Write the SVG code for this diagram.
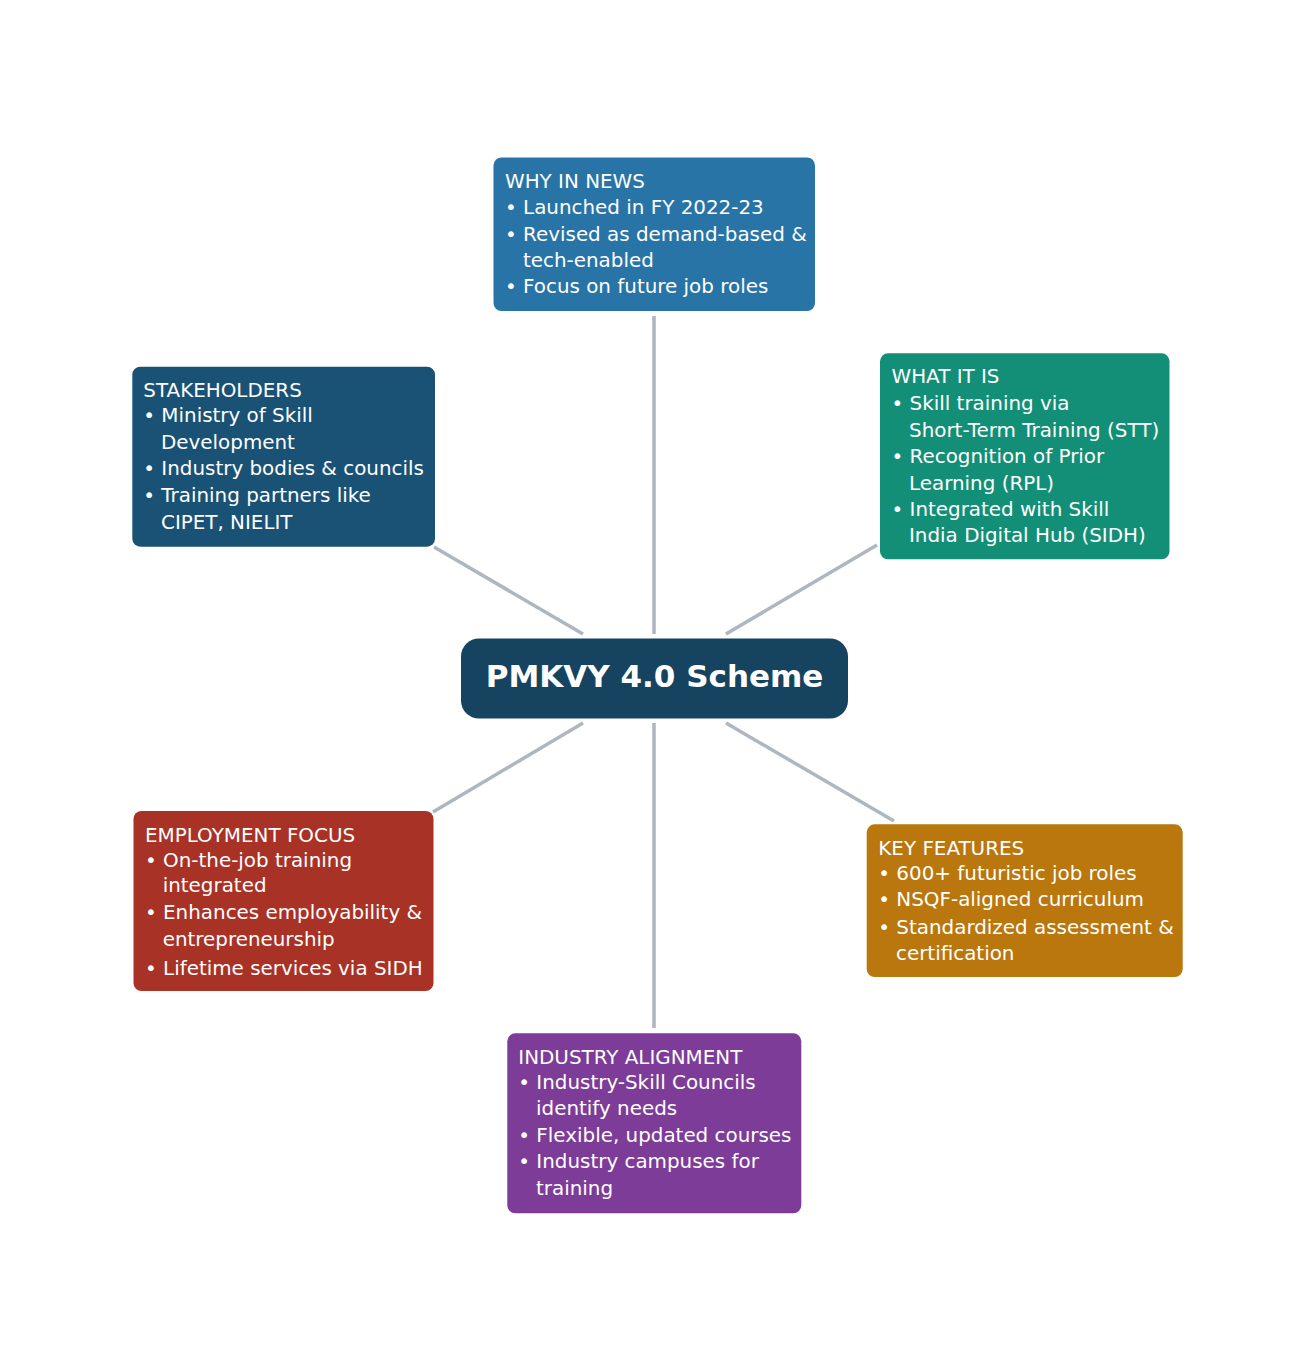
<svg xmlns="http://www.w3.org/2000/svg" width="1308" height="1358" viewBox="0 0 1308 1358">
<style>
.edge{stroke:#aeb6bf;stroke-width:3.5;fill:none;stroke-linecap:butt}
.t{font-family:"DejaVu Sans","Liberation Sans",sans-serif;font-size:19.9px;fill:#ffffff}
.title{font-family:"DejaVu Sans","Liberation Sans",sans-serif;font-size:31px;font-weight:bold;fill:#ffffff}
</style>
<rect width="1308" height="1358" fill="#ffffff"/>
<g id="connectors">
<line class="edge" x1="654" y1="316" x2="654" y2="634"/>
<line class="edge" x1="583" y1="634" x2="434" y2="547"/>
<line class="edge" x1="726" y1="634" x2="877" y2="545"/>
<line class="edge" x1="583" y1="723" x2="433" y2="812"/>
<line class="edge" x1="726" y1="723" x2="894" y2="821"/>
<line class="edge" x1="654" y1="723" x2="654" y2="1028"/>
</g>
<g id="center">
<rect x="461" y="638.5" width="387" height="80" rx="18" fill="#154360"/>
<text class="title" x="654.5" y="687" text-anchor="middle">PMKVY 4.0 Scheme</text>
</g>
<g id="why-in-news">
<rect x="493.5" y="157.5" width="321.5" height="153.5" rx="8" fill="#2874a6"/>
<text class="t" x="505" y="187.7">WHY IN NEWS</text>
<text class="t" x="505" y="214.3">• Launched in FY 2022-23</text>
<text class="t" x="505" y="241">• Revised as demand-based &amp;</text>
<text class="t" x="523" y="267">tech-enabled</text>
<text class="t" x="505" y="292.7">• Focus on future job roles</text>
</g>
<g id="what-it-is">
<rect x="880" y="353.3" width="289.5" height="206" rx="8" fill="#148f77"/>
<text class="t" x="891.5" y="383.3">WHAT IT IS</text>
<text class="t" x="891.5" y="409.9">• Skill training via</text>
<text class="t" x="909" y="436.5">Short-Term Training (STT)</text>
<text class="t" x="891.5" y="463.1">• Recognition of Prior</text>
<text class="t" x="909" y="489.7">Learning (RPL)</text>
<text class="t" x="891.5" y="516.3">• Integrated with Skill</text>
<text class="t" x="909" y="542.3">India Digital Hub (SIDH)</text>
</g>
<g id="stakeholders">
<rect x="132.3" y="366.7" width="302.7" height="180" rx="8" fill="#1a5276"/>
<text class="t" x="143.3" y="396.7">STAKEHOLDERS</text>
<text class="t" x="143.3" y="421.9">• Ministry of Skill</text>
<text class="t" x="161" y="448.5">Development</text>
<text class="t" x="143.3" y="475.1">• Industry bodies &amp; councils</text>
<text class="t" x="143.3" y="501.7">• Training partners like</text>
<text class="t" x="161" y="528.5">CIPET, NIELIT</text>
</g>
<g id="employment-focus">
<rect x="133.5" y="811" width="300" height="180" rx="8" fill="#a93226"/>
<text class="t" x="145" y="841.7">EMPLOYMENT FOCUS</text>
<text class="t" x="145" y="866.7">• On-the-job training</text>
<text class="t" x="162.7" y="892.3">integrated</text>
<text class="t" x="145" y="919.3">• Enhances employability &amp;</text>
<text class="t" x="162.7" y="945.7">entrepreneurship</text>
<text class="t" x="145" y="974.5">• Lifetime services via SIDH</text>
</g>
<g id="key-features">
<rect x="866.7" y="824.3" width="316" height="152.7" rx="8" fill="#b9770e"/>
<text class="t" x="878.3" y="854.5">KEY FEATURES</text>
<text class="t" x="878.3" y="879.5">• 600+ futuristic job roles</text>
<text class="t" x="878.3" y="906.2">• NSQF-aligned curriculum</text>
<text class="t" x="878.3" y="934.2">• Standardized assessment &amp;</text>
<text class="t" x="896" y="960">certification</text>
</g>
<g id="industry-alignment">
<rect x="507.3" y="1033.3" width="294" height="180" rx="8" fill="#7d3c98"/>
<text class="t" x="518.3" y="1064">INDUSTRY ALIGNMENT</text>
<text class="t" x="518.3" y="1088.5">• Industry-Skill Councils</text>
<text class="t" x="536" y="1115">identify needs</text>
<text class="t" x="518.3" y="1141.7">• Flexible, updated courses</text>
<text class="t" x="518.3" y="1168.3">• Industry campuses for</text>
<text class="t" x="536" y="1195">training</text>
</g>
</svg>
